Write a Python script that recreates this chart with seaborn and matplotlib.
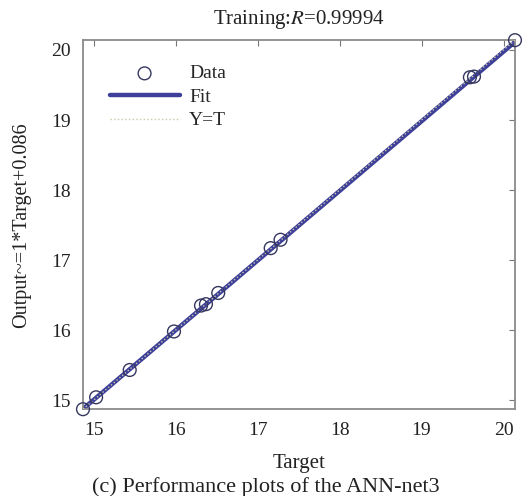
import numpy as np
import pandas as pd
import matplotlib
matplotlib.use("Agg")
import matplotlib.pyplot as plt
import seaborn as sns

# Network targets and the trained network's outputs
targets = [14.87, 15.03, 15.44, 15.98, 16.31, 16.37, 16.52, 17.16, 17.28, 19.59, 19.64, 20.14]
outputs = [14.87, 15.04, 15.43, 15.98, 16.35, 16.37, 16.53, 17.17, 17.29, 19.61, 19.62, 20.14]

# Linear regression of outputs on targets
fit_slope = 0.9945
fit_intercept = 0.086
r_value = "0.99994"

axis_min, axis_max = 14.87, 20.14
tick_values = [15, 16, 17, 18, 19, 20]

sns.set_theme(style="white")
plt.rcParams["font.family"] = ["Liberation Serif", "DejaVu Serif"]
plt.rcParams["mathtext.fontset"] = "stix"

fig = plt.figure(figsize=(5.32, 4.96), dpi=100)
ax = fig.add_axes([0.156, 0.175, 0.812, 0.744])

line_x = np.array([axis_min, axis_max])
ref_df = pd.DataFrame({"Target": line_x, "Output": line_x})
fit_df = pd.DataFrame({"Target": line_x, "Output": fit_slope * line_x + fit_intercept})
pts_df = pd.DataFrame({"Target": targets, "Output": outputs})

sns.lineplot(data=fit_df, x="Target", y="Output", ax=ax, color="#3d3f99",
             linewidth=3.2, label="Fit", zorder=2)
sns.lineplot(data=ref_df, x="Target", y="Output", ax=ax, color="#c9c9a8",
             linewidth=1.0, linestyle=":", label="Y=T", zorder=3)
sns.scatterplot(data=pts_df, x="Target", y="Output", ax=ax, marker="o",
                s=85, facecolor="none", edgecolor="#35375f", linewidth=1.0,
                label="Data", zorder=4)
# circles at the corners are drawn whole, not cut by the frame
ax.collections[-1].set_clip_on(False)

ax.set_xlim(axis_min, axis_max)
ax.set_ylim(axis_min, axis_max)
ax.set_xticks(tick_values)
ax.set_yticks(tick_values)
ax.tick_params(direction="in", length=4, width=0.8, color="#777777",
               top=True, right=True, labelsize=14, labelcolor="#222222")
ax.tick_params(axis="x", pad=9)
ax.tick_params(axis="y", pad=9)

for side in ax.spines.values():
    side.set_color("#8a8a8a")
    side.set_linewidth(1.3)

ax.set_xlabel("Target", fontsize=15, labelpad=11, color="#222222")
ax.set_ylabel("Output~=1*Target+0.086", fontsize=14.5, labelpad=14, color="#222222")
ax.set_title(f"Training:$R$={r_value}", fontsize=15, pad=12, color="#222222")

handles, labels = ax.get_legend_handles_labels()
order = [labels.index(k) for k in ["Data", "Fit", "Y=T"]]
ax.legend([handles[i] for i in order], [labels[i] for i in order],
          loc="upper left", frameon=False, fontsize=14, handlelength=3.6,
          handletextpad=0.5, labelspacing=0.3, borderaxespad=0.3,
          bbox_to_anchor=(0.03, 0.97))

fig.text(0.5, 0.018, "(c) Performance plots of the ANN-net3", ha="center",
         va="center", fontsize=16, color="#222222")

fig.savefig("out.png", dpi=100)
